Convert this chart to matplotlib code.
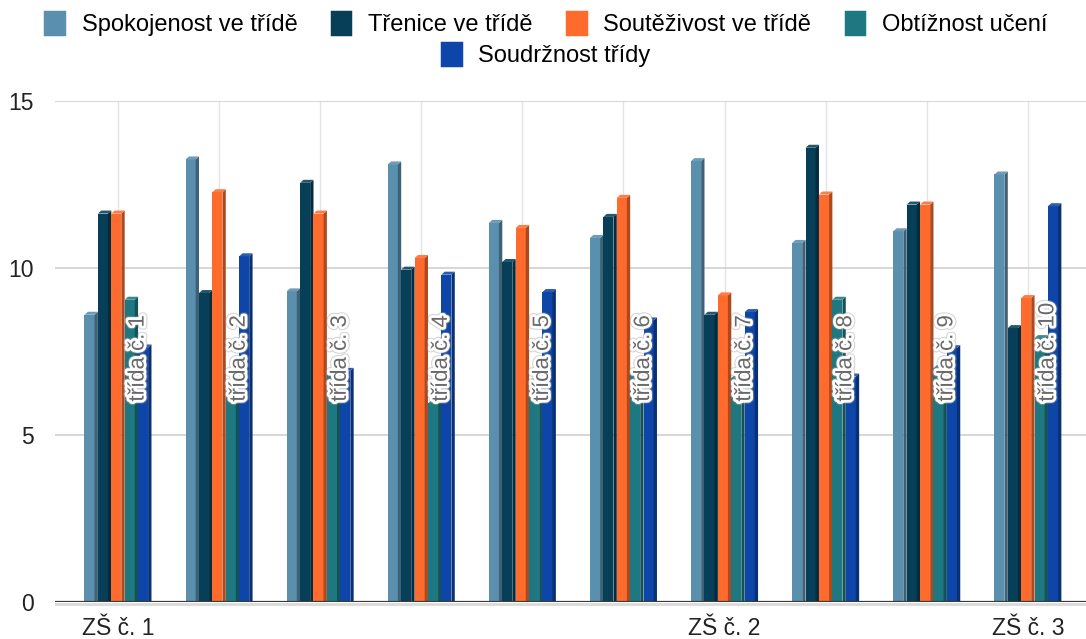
import matplotlib
matplotlib.use("Agg")
import matplotlib.pyplot as plt
import matplotlib.patheffects as pe
from matplotlib.patches import Polygon, Patch
from matplotlib.colors import to_rgb
import numpy as np

plt.rcParams['font.family'] = ['Liberation Sans', 'DejaVu Sans']

# --- data -------------------------------------------------------------
classes = ["třída č. 1", "třída č. 2", "třída č. 3", "třída č. 4", "třída č. 5",
           "třída č. 6", "třída č. 7", "třída č. 8", "třída č. 9", "třída č. 10"]
schools = ["ZŠ č. 1", "", "", "", "", "", "ZŠ č. 2", "", "", "ZŠ č. 3"]

series_names = ["Spokojenost ve třídě", "Třenice ve třídě", "Soutěživost ve třídě",
                "Obtížnost učení", "Soudržnost třídy"]
spokojenost = [8.6, 13.25, 9.3, 13.1, 11.35, 10.9, 13.2, 10.75, 11.1, 12.8]
trenice = [11.63, 9.25, 12.55, 9.95, 10.18, 11.53, 8.6, 13.6, 11.9, 8.2]
soutezivost = [11.63, 12.27, 11.63, 10.3, 11.2, 12.1, 9.18, 12.2, 11.9, 9.1]
obtiznost = [9.05, 6.5, 6.8, 5.95, 6.6, 6.9, 6.7, 9.05, 7.0, 7.9]
soudrznost = [7.62, 10.35, 6.92, 9.8, 9.28, 8.43, 8.68, 6.75, 7.6, 11.85]

colors = ["#5a8fae", "#073f58", "#ff6b2c", "#1d7882", "#0d46a8"]

values = [spokojenost, trenice, soutezivost, obtiznost, soudrznost]


def shade(c, f):
    r, g, b = to_rgb(c)
    return (r * f, g * f, b * f)


def tint(c, f):
    r, g, b = to_rgb(c)
    return (r + (1 - r) * f, g + (1 - g) * f, b + (1 - b) * f)


fig = plt.figure(figsize=(10.86, 6.39), dpi=100)
ax = fig.add_axes([55 / 1086, 37 / 639, 1031 / 1086, 501 / 639])

x = np.arange(len(classes))
slot = 0.1325          # one bar including its side face
depth = 0.033          # side face width (data x units)
rise = 0.09            # top face height (data y units)
front = slot - depth

for s, (vals, col) in enumerate(zip(values, colors)):
    left = x + (s - 2.5) * slot
    ax.bar(left, vals, width=front, align='edge', color=col, zorder=3, linewidth=0)
    for xl, v in zip(left, vals):
        xr = xl + front
        side = Polygon([(xr, 0), (xr + depth, 0), (xr + depth, v + rise), (xr, v)],
                       closed=True, facecolor=shade(col, 0.68), edgecolor='none', zorder=3)
        top = Polygon([(xl, v), (xl + depth, v + rise), (xr + depth, v + rise), (xr, v)],
                      closed=True, facecolor=tint(col, 0.12), edgecolor='none', zorder=3)
        ax.add_patch(side)
        ax.add_patch(top)

# class names written over the bars
halo = [pe.Stroke(linewidth=5.5, foreground='#a0a0a0', alpha=0.45),
        pe.Stroke(linewidth=4, foreground='white'),
        pe.Normal()]
label_x = x + 1.5 * slot
for xi, name in zip(label_x, classes):
    ax.text(xi, 6.0, name, rotation=90, ha='center', va='bottom', fontsize=16,
            color='#6a6a6a', zorder=5, path_effects=halo)

# floor of the plot
ax.axhline(0, color='#3a3a3a', lw=1.6, zorder=4)
ax.axhspan(-0.13, -0.02, color='#dcdcdc', lw=0, zorder=1, clip_on=False)

ax.set_xlim(-0.623, 9.575)
ax.set_ylim(0, 15)
ax.set_yticks([0, 5, 10, 15])
ax.set_xticks(x)
ax.set_xticklabels(schools)
ax.tick_params(axis='both', length=0, labelsize=16.5, colors='#222222')
ax.tick_params(axis='x', pad=11)
ax.tick_params(axis='y', pad=15)
ax.grid(axis='y', color='#cfcfcf', lw=1.2, zorder=0)
ax.grid(axis='x', color='#e4e4e4', lw=1.0, zorder=0)
for sp in ax.spines.values():
    sp.set_visible(False)

# legend: four entries on the first line, the last one centred below
handles = [Patch(facecolor=c, edgecolor=c, linewidth=2.5, joinstyle='round') for c in colors]
leg_kw = dict(frameon=False, fontsize=17, handlelength=0.8, handleheight=1.05,
              handletextpad=0.75, columnspacing=1.45, borderaxespad=0, borderpad=0)
fig.legend(handles[:4], series_names[:4], loc='center', bbox_to_anchor=(0.503, 0.962),
           ncol=4, **leg_kw)
fig.legend(handles[4:], series_names[4:], loc='center', bbox_to_anchor=(0.503, 0.914),
           ncol=1, **leg_kw)

fig.savefig("out.png", dpi=100)
